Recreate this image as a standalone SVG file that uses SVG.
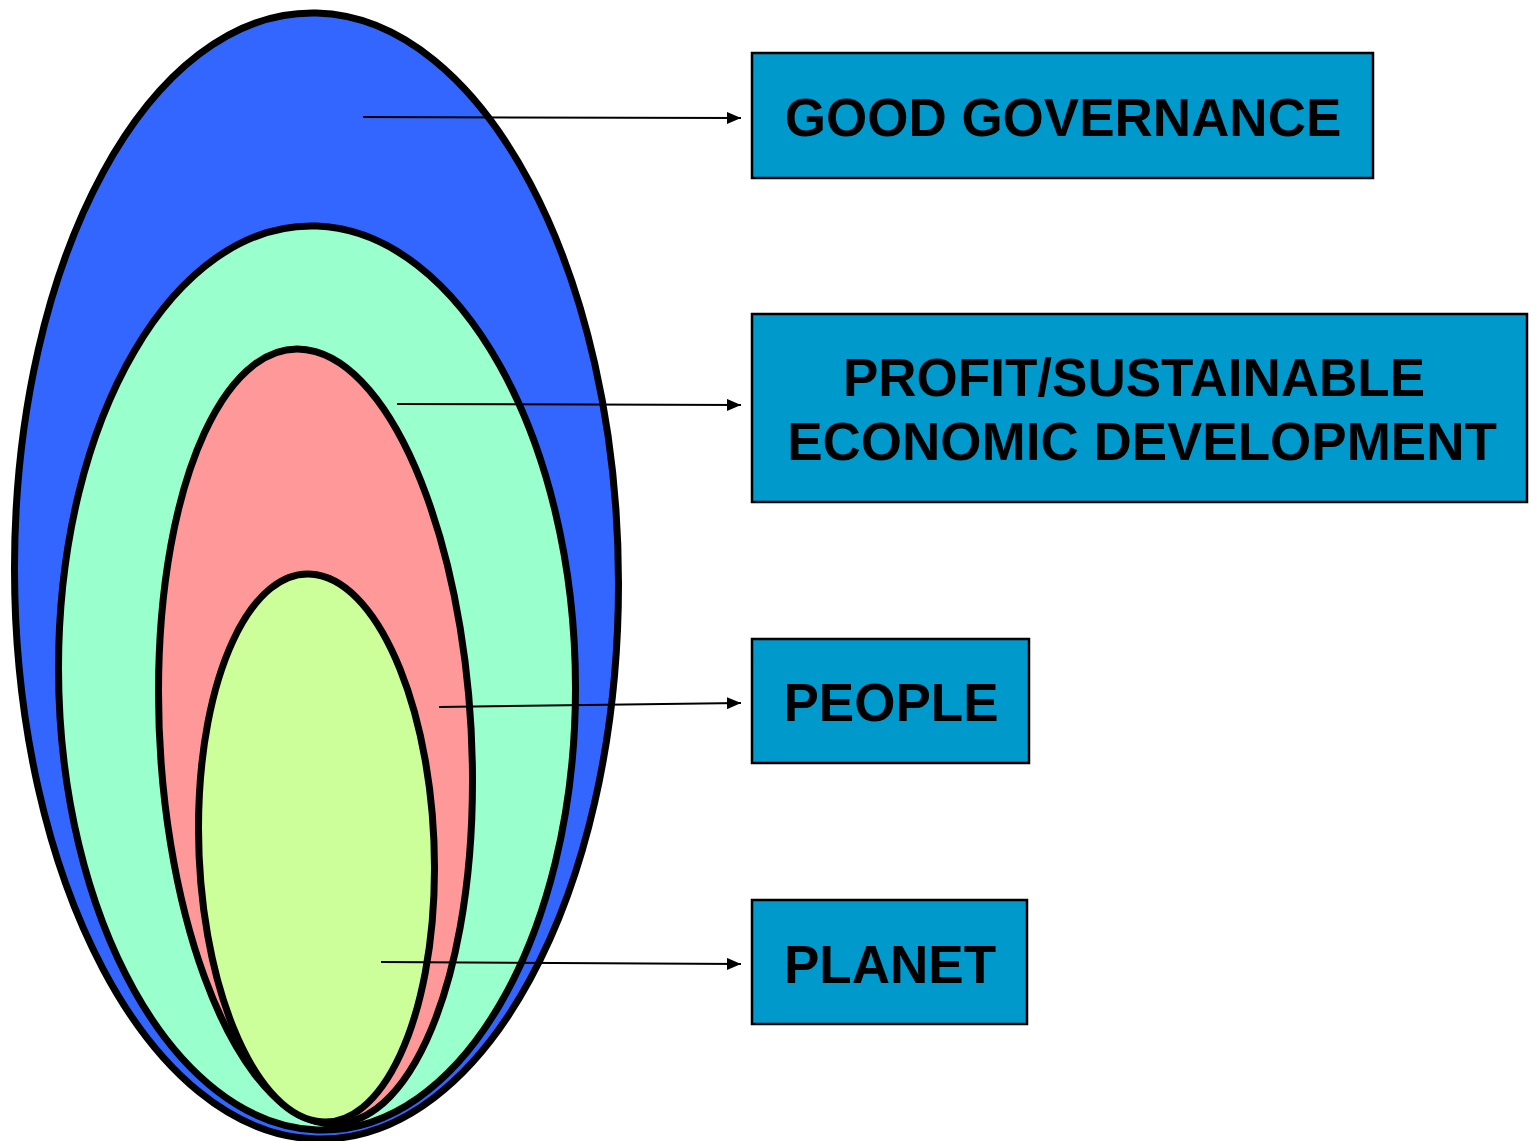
<svg xmlns="http://www.w3.org/2000/svg" width="1533" height="1141" viewBox="0 0 1533 1141">
<style>
.ring{stroke:#000;stroke-width:7}
.box{fill:#0099CC;stroke:#000;stroke-width:2.5}
.lbl{font-family:"Liberation Sans",Arial,sans-serif;font-weight:bold;font-size:53px;fill:#000;text-anchor:middle}
.conn{stroke:#000;stroke-width:2;fill:none;marker-end:url(#arr)}
</style>
<defs>
<marker id="arr" markerUnits="userSpaceOnUse" markerWidth="16" markerHeight="12" refX="14" refY="6" orient="auto">
<path d="M0,0 L14,6 L0,12 Z" fill="#000"/>
</marker>
</defs>
<rect width="1533" height="1141" fill="#fff"/>
<g id="rings">
<path id="governance-ring" class="ring" fill="#3366FF" d="M618.5,583.5 C618.5,894.44 483.29,1143.14 316.5,1139 C149.71,1134.86 14.5,879.44 14.5,568.5 C14.5,257.56 149.71,8.86 316.5,13 C483.29,17.14 618.5,272.56 618.5,583.5 Z"/>
<path id="profit-ring" class="ring" fill="#99FFCC" d="M575.5,688 C575.5,937.58 459.77,1135.42 317,1129.9 C174.23,1124.38 58.5,917.58 58.5,668 C58.5,418.42 174.23,220.58 317,226.1 C459.77,231.62 575.5,438.42 575.5,688 Z"/>
<path id="people-ring" class="ring" fill="#FF9999" d="M472.5,781.1 C472.5,993.68 402.21,1146.03 315.5,1121.4 C228.79,1096.77 158.5,904.48 158.5,691.9 C158.5,479.32 228.79,326.97 315.5,351.6 C402.21,376.23 472.5,568.52 472.5,781.1 Z"/>
<path id="planet-ring" class="ring" fill="#CCFF99" d="M434.5,868 C434.5,1018.94 381.67,1132.35 316.5,1121.3 C251.33,1110.25 198.5,978.94 198.5,828 C198.5,677.06 251.33,563.65 316.5,574.7 C381.67,585.75 434.5,717.06 434.5,868 Z"/>
</g>
<g id="connectors">
<line class="conn" x1="363" y1="117" x2="741" y2="118"/>
<line class="conn" x1="397" y1="404" x2="741" y2="405"/>
<line class="conn" x1="439" y1="707" x2="741" y2="703"/>
<line class="conn" x1="381" y1="962" x2="741" y2="964"/>
</g>
<g id="good-governance">
<rect class="box" x="752" y="53" width="621" height="125"/>
<text class="lbl" x="1063" y="136">GOOD GOVERNANCE</text>
</g>
<g id="profit">
<rect class="box" x="752" y="314" width="775" height="188"/>
<text class="lbl" x="1134" y="396">PROFIT/SUSTAINABLE</text>
<text class="lbl" x="1142" y="460">ECONOMIC DEVELOPMENT</text>
</g>
<g id="people">
<rect class="box" x="752" y="639" width="277" height="124"/>
<text class="lbl" x="891" y="721">PEOPLE</text>
</g>
<g id="planet">
<rect class="box" x="752" y="900" width="275" height="124"/>
<text class="lbl" x="890" y="983">PLANET</text>
</g>
</svg>
